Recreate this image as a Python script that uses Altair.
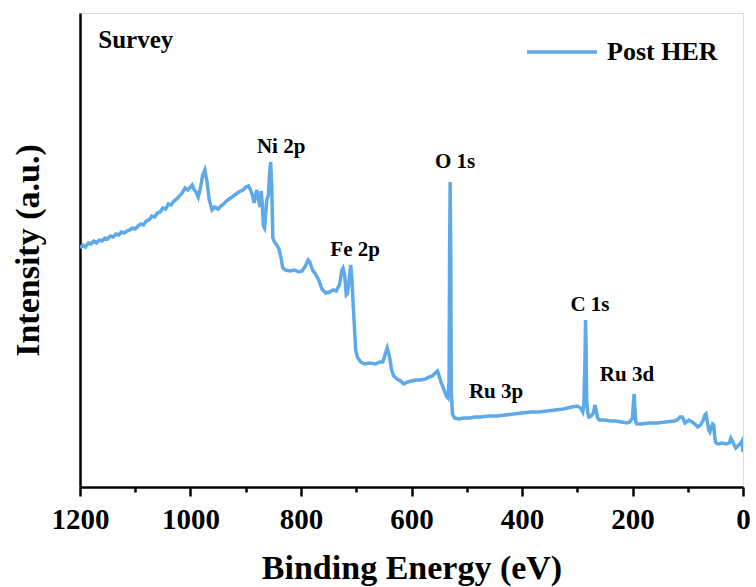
import altair as alt
import pandas as pd

# Binding energy (eV) and intensity (a.u., arbitrary scale)
energy = [1200, 1195, 1190, 1185, 1180, 1175, 1170, 1165, 1160, 1155, 1150, 1145, 1140, 1135, 1130,
          1125, 1120, 1115, 1110, 1105, 1100, 1095, 1090, 1085, 1080, 1075, 1070, 1065, 1060, 1055,
          1050, 1045, 1040, 1035, 1030, 1025, 1020, 1015, 1010, 1005, 1000, 997, 993, 990, 986, 982,
          978, 974, 970, 966, 961, 956, 950, 945, 940, 935, 930, 925, 920, 915, 910, 905, 900, 895,
          892, 888, 885, 882, 880, 877, 874, 872, 870, 868, 866, 864, 862, 859, 857, 855, 853, 851,
          848, 844, 840, 836, 833, 828, 820, 812, 804, 798, 792, 787, 784, 779, 774, 768, 762, 755,
          748, 742, 736, 730, 726, 724, 721, 718, 716, 713, 710, 708, 706, 703, 701, 698, 692, 685,
          675, 665, 658, 652, 648, 644, 640, 636, 632, 626, 620, 614, 607, 600, 592, 584, 575, 568,
          562, 557, 553, 550, 546, 541, 537, 534, 532, 531, 530, 529, 528, 526, 522, 515, 505, 495,
          485, 475, 460, 445, 430, 415, 400, 385, 370, 355, 340, 325, 310, 300, 294, 290, 288, 286,
          285, 284, 283, 281, 279, 275, 271, 268, 266, 263, 260, 250, 240, 230, 220, 210, 205, 200,
          198, 197, 196, 194, 192, 185, 170, 155, 140, 125, 119, 114, 110, 108, 105, 98, 92, 87, 82,
          77, 72, 69, 67, 65, 62, 60, 58, 55, 53, 51, 49, 45, 38, 30, 25, 22, 20, 16, 13, 8, 4, 2, 0]
pix = [248, 245, 247, 243, 244, 241, 243, 240, 241, 238, 239, 236, 237, 234, 235,
       232, 233, 231, 230, 228, 229, 226, 224, 225, 221, 220, 216, 217, 213, 212,
       208, 209, 204, 205, 201, 199, 196, 193, 188, 190, 187, 185, 190, 192, 197, 188,
       175, 170, 182, 200, 210, 207, 209, 206, 204, 201, 199, 197, 195, 193, 191, 190, 187, 186,
       189, 195, 203, 195, 190, 200, 207, 191, 205, 226, 228, 215, 200, 195, 175, 162, 185, 238,
       242, 245, 249, 258, 268, 270, 271, 270, 272, 271, 266, 260, 262, 270, 274, 280, 289, 293,
       292, 290, 291, 284, 270, 268, 275, 295, 294, 280, 265, 278, 300, 330, 350, 357, 362, 364,
       363, 364, 362, 362, 355, 348, 356, 370, 376, 379, 381, 384, 382, 381, 380, 380, 379, 377,
       376, 373, 371, 376, 383, 390, 396, 398, 380, 250, 182, 250, 390, 414, 418, 419, 418, 418,
       417, 417, 416, 416, 415, 414, 413, 412, 412, 411, 410, 409, 407, 406, 408, 412, 405, 360,
       320, 345, 400, 413, 417, 416, 413, 405, 410, 418, 420, 420, 421, 421, 422, 423, 422, 418,
       400, 394, 405, 422, 424, 424, 423, 423, 422, 421, 420, 417, 417, 419, 423, 420, 422, 424, 427,
       425, 420, 415, 414, 420, 430, 432, 428, 424, 425, 438, 443, 444, 443, 444, 443, 438, 440, 445, 448, 445, 443, 441, 452]
intensity = [487 - p for p in pix]

peak_labels = ["Ni 2p", "O 1s", "Fe 2p", "C 1s", "Ru 3d", "Ru 3p"]
peak_energy = [836, 521, 702, 277, 210, 447]
peak_intensity = [340, 325, 237, 182, 112, 95]

panel_text = ["Survey"]
panel_energy = [1167]
panel_intensity = [439]

major_ticks = [0, 200, 400, 600, 800, 1000, 1200]
minor_ticks = [100, 300, 500, 700, 900, 1100]

FONT = "Times New Roman, Liberation Serif, serif"
BLUE = "#5DA9E9"

spec = pd.DataFrame({"E": energy, "I": intensity, "series": ["Post HER"] * len(energy)})
peaks = pd.DataFrame({"E": peak_energy, "I": peak_intensity, "label": peak_labels})
panel = pd.DataFrame({"E": panel_energy, "I": panel_intensity, "label": panel_text})

xscale = alt.Scale(domain=[0, 1200], reverse=True, nice=False, zero=False)
yscale = alt.Scale(domain=[0, 474], nice=False, zero=False)

line = alt.Chart(spec).mark_line(strokeWidth=3.5, clip=True).encode(
    x=alt.X("E:Q", scale=xscale,
            axis=alt.Axis(values=major_ticks, format="d", tickSize=9, tickWidth=2.5, tickColor="black",
                          domainColor="black", domainWidth=2.5, grid=False, orient="bottom",
                          labelFont=FONT, labelFontSize=29, labelFontWeight="bold",
                          labelColor="black", labelPadding=9, labelFlush=False,
                          title="Binding Energy (eV)", titleFont=FONT, titleFontSize=34,
                          titleFontWeight="bold", titleColor="black", titlePadding=17)),
    y=alt.Y("I:Q", scale=yscale,
            axis=alt.Axis(labels=False, ticks=False, grid=False, domainColor="black",
                          domainWidth=2.5, title="Intensity (a.u.)", titleFont=FONT,
                          titleFontSize=34, titleFontWeight="bold", titleColor="black",
                          titlePadding=35)),
    color=alt.Color("series:N", scale=alt.Scale(range=[BLUE]),
                    legend=alt.Legend(title=None, orient="none", legendX=445, legendY=2,
                                      symbolType="stroke", symbolSize=4900, symbolStrokeWidth=3.5,
                                      labelFont=FONT, labelFontSize=26, labelFontWeight="bold",
                                      labelColor="black", labelOffset=8, padding=0)),
)

peak_text = alt.Chart(peaks).mark_text(font=FONT, fontSize=21, fontWeight="bold",
                                       color="black", align="center", baseline="middle").encode(
    x=alt.X("E:Q", scale=xscale,
            axis=alt.Axis(values=minor_ticks, orient="bottom", tickSize=5, tickWidth=2.5,
                          tickColor="black", labels=False, domain=False, grid=False, title=None)),
    y=alt.Y("I:Q", scale=yscale),
    text="label:N",
)

panel_label = alt.Chart(panel).mark_text(font=FONT, fontSize=25, fontWeight="bold",
                                         color="black", align="left", baseline="alphabetic").encode(
    x=alt.X("E:Q", scale=xscale, axis=None),
    y=alt.Y("I:Q", scale=yscale),
    text="label:N",
)

chart = alt.layer(line, peak_text, panel_label).resolve_axis(x="independent").properties(
    width=663, height=474, autosize="none",
    padding={"left": 80, "top": 13, "right": 13, "bottom": 100},
).configure_view(stroke="black", strokeWidth=2.5).configure(background="white")

chart.save("out.html", embed_options={"renderer": "svg", "actions": False})
